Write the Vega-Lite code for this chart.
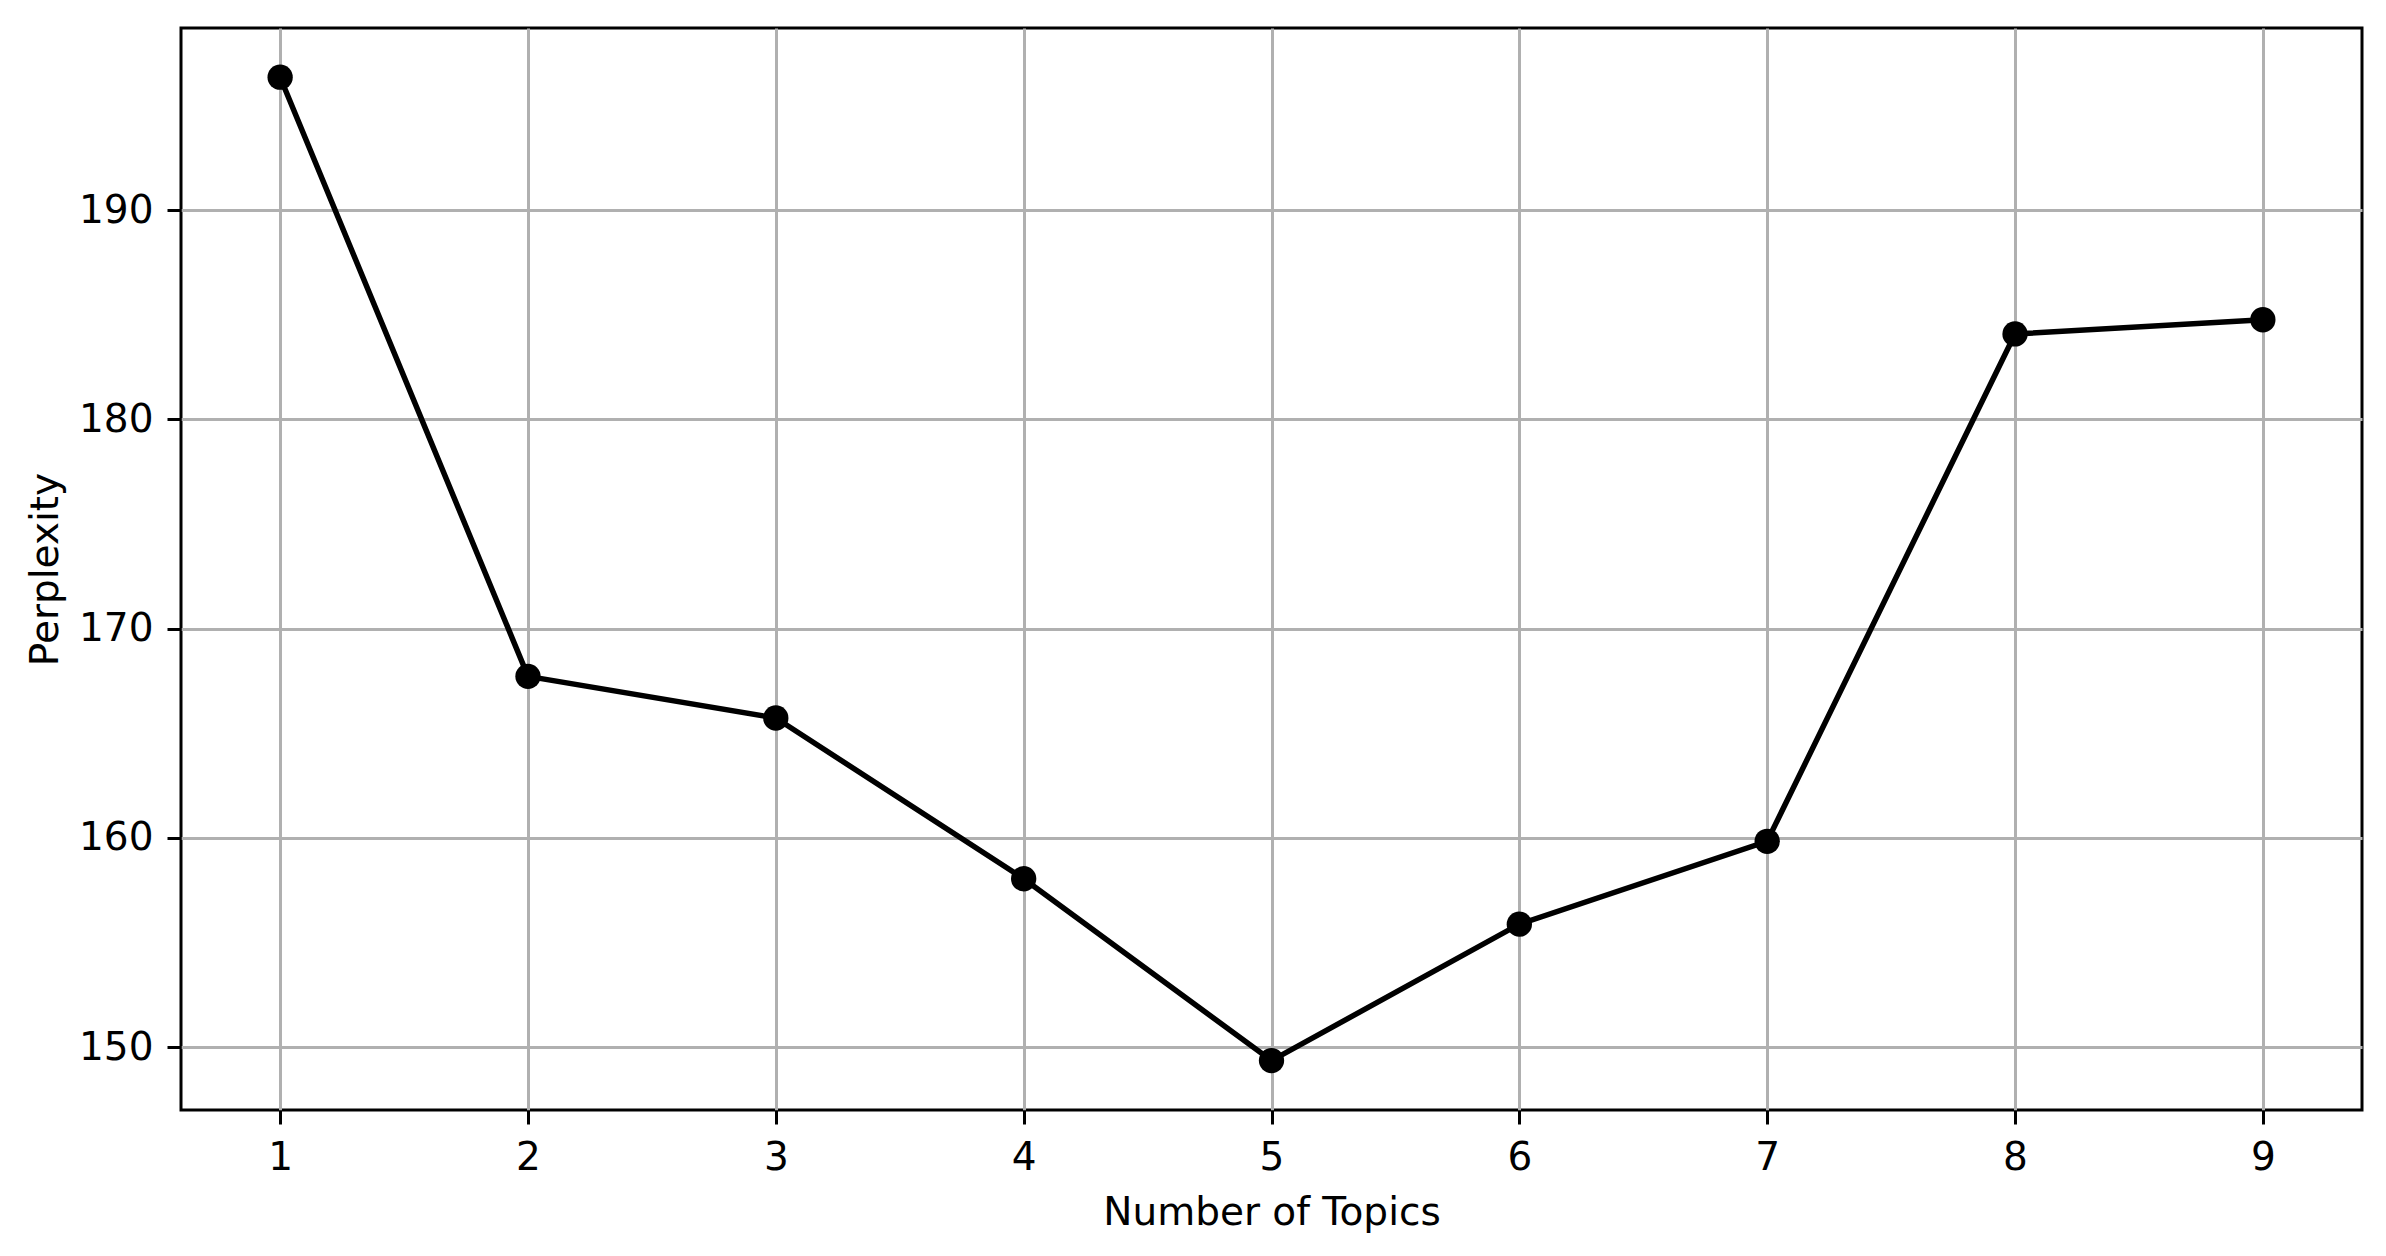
{
  "$schema": "https://vega.github.io/schema/vega-lite/v6.json",
  "autosize": {"type": "none"},
  "width": 2181,
  "height": 1082,
  "padding": {"left": 181, "top": 28, "right": 24, "bottom": 146},
  "background": "white",
  "data": {
    "values": [
      {"topics": 1, "perplexity": 196.35},
      {"topics": 2, "perplexity": 167.72},
      {"topics": 3, "perplexity": 165.73},
      {"topics": 4, "perplexity": 158.05},
      {"topics": 5, "perplexity": 149.36},
      {"topics": 6, "perplexity": 155.88},
      {"topics": 7, "perplexity": 159.84},
      {"topics": 8, "perplexity": 184.08},
      {"topics": 9, "perplexity": 184.76}
    ]
  },
  "encoding": {
    "x": {
      "field": "topics",
      "type": "quantitative",
      "title": "Number of Topics",
      "scale": {"domain": [0.6, 9.4], "nice": false, "zero": false},
      "axis": {"values": [1, 2, 3, 4, 5, 6, 7, 8, 9], "format": "d", "titlePadding": 16}
    },
    "y": {
      "field": "perplexity",
      "type": "quantitative",
      "title": "Perplexity",
      "scale": {"domain": [147.0, 198.7], "nice": false, "zero": false},
      "axis": {"values": [150, 160, 170, 180, 190], "titlePadding": 13}
    }
  },
  "layer": [
    {"mark": {"type": "line", "color": "black", "strokeWidth": 5.5}},
    {"mark": {"type": "point", "filled": true, "color": "black", "size": 640, "opacity": 1}}
  ],
  "config": {
    "font": "DejaVu Sans",
    "view": {"stroke": "black", "strokeWidth": 3},
    "axis": {
      "domain": false,
      "grid": true,
      "gridColor": "#b0b0b0",
      "gridWidth": 3,
      "ticks": true,
      "tickColor": "black",
      "tickWidth": 3,
      "tickSize": 14,
      "labelPadding": 14,
      "labelFont": "DejaVu Sans",
      "labelFontSize": 39,
      "labelColor": "black",
      "titleFont": "DejaVu Sans",
      "titleFontSize": 39,
      "titleFontWeight": "normal",
      "titleColor": "black"
    }
  }
}
